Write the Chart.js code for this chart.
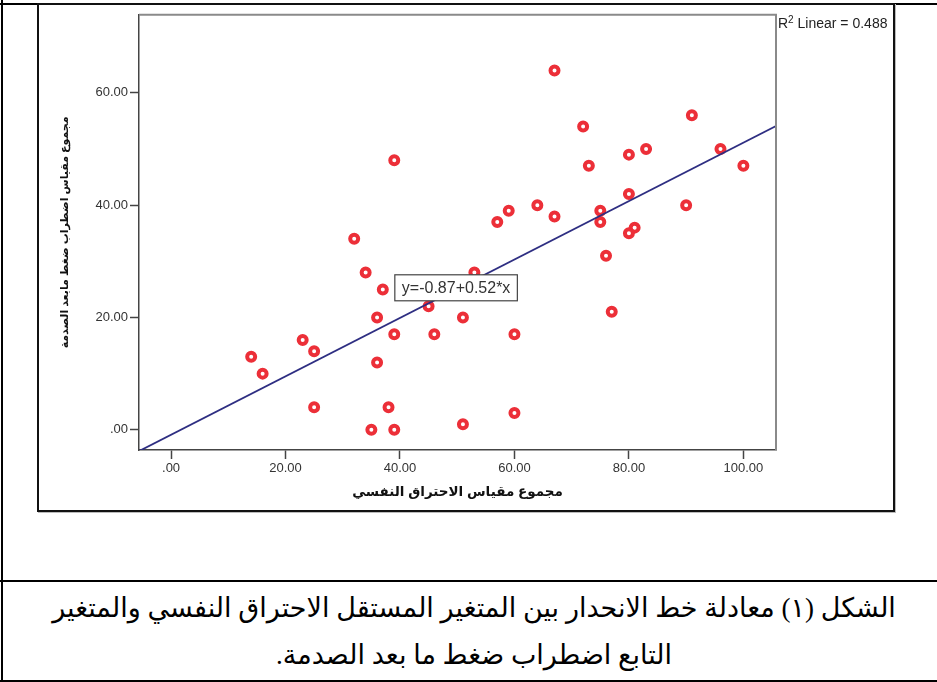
<!DOCTYPE html>
<html>
<head>
<meta charset="utf-8">
<script src="https://cdn.jsdelivr.net/npm/chart.js@4.4.1/dist/chart.umd.min.js"></script>
<style>
  html, body { margin: 0; padding: 0; background: #fff; }
  body { width: 937px; height: 682px; position: relative; overflow: hidden; }
  .hl { position: absolute; left: 0; width: 937px; height: 2px; background: #000; }
  .vl { position: absolute; top: 0; width: 2px; height: 682px; background: #000; }
  #frame { position: absolute; left: 37px; top: 3px; width: 858px; height: 509px; box-sizing: border-box;
           border: 2px solid #111; box-shadow: 1px 1px 0 #bbb; }
  #wrap { position: absolute; left: 39px; top: 5px; width: 854px; height: 505px; }
  .caption { position: absolute; left: 4px; width: 940px; text-align: center; direction: rtl;
             font-family: "Times New Roman", "Liberation Serif", "DejaVu Sans", serif;
             font-size: 27px; color: #000; white-space: nowrap; }
</style>
</head>
<body>
<div class="hl" style="top:3px"></div>
<div class="vl" style="left:1px"></div>
<div id="frame"></div>
<div class="hl" style="top:580px"></div>
<div class="hl" style="top:680px"></div>
<div id="wrap"><canvas id="chart" width="854" height="505"></canvas></div>
<div class="caption" style="top:592px">الشكل (١) معادلة خط الانحدار بين المتغير المستقل الاحتراق النفسي والمتغير</div>
<div class="caption" style="top:639px">التابع اضطراب ضغط ما بعد الصدمة.</div>

<script>
// burnout total (x) and PTSD total (y) for each respondent
const burnout = [39, 59, 57, 32, 67, 91, 72, 83, 80, 96, 73, 100, 80, 64, 67, 90, 75, 75, 81, 80, 76,
  77, 51, 60, 51, 60, 53, 34, 37, 45, 36, 39, 46, 23, 14, 25, 36, 16, 25, 38, 35, 39];
const ptsd = [48, 39, 37, 34, 64, 56, 54, 50, 49, 50, 47, 47, 42, 40, 38, 40, 39, 37, 36, 35, 31,
  21, 20, 17, 1, 3, 28, 28, 25, 22, 20, 17, 17, 16, 13, 14, 12, 10, 4, 4, 0, 0];

// fit line end points, as drawn edge to edge
const fitX = [-5.6, 105.7];
const fitY = [-3.8, 54.1];

const xTicks = [0, 20, 40, 60, 80, 100];
const yTicks = [0, 20, 40, 60];

const xTitle = "مجموع مقياس الاحتراق النفسي";
const yTitle = "مجموع مقياس اضطراب ضغط مابعد الصدمة";
const equation = "y=-0.87+0.52*x";
const rSquared = "0.488";

const SANS = "Arial, 'Liberation Sans', 'DejaVu Sans', sans-serif";

function fmt(v) {
  return v.toFixed(2).replace(/^0\./, ".");
}

const extras = {
  id: "extras",
  afterDraw(chart) {
    const ctx = chart.ctx;
    const a = chart.chartArea;
    const xs = chart.scales.x, ys = chart.scales.y;
    ctx.save();

    // top and right edges of the plot frame
    ctx.strokeStyle = "#8a8a8a";
    ctx.lineWidth = 2;
    ctx.beginPath();
    ctx.moveTo(a.left, a.top);
    ctx.lineTo(a.right, a.top);
    ctx.lineTo(a.right, a.bottom);
    ctx.stroke();

    // R2 label
    ctx.fillStyle = "#222";
    ctx.textBaseline = "alphabetic";
    ctx.textAlign = "left";
    let tx = a.right + 2, ty = a.top + 13;
    ctx.font = "14px " + SANS;
    ctx.fillText("R", tx, ty);
    tx += ctx.measureText("R").width;
    ctx.font = "10px " + SANS;
    ctx.fillText("2", tx, ty - 5);
    tx += ctx.measureText("2").width;
    ctx.font = "14px " + SANS;
    ctx.fillText(" Linear = " + rSquared, tx, ty);

    // equation box
    ctx.font = "16px " + SANS;
    const w = ctx.measureText(equation).width + 14;
    const bx = xs.getPixelForValue(39.1), by = ys.getPixelForValue(27.6);
    ctx.fillStyle = "#fff";
    ctx.fillRect(bx, by, w, 26);
    ctx.strokeStyle = "#444";
    ctx.lineWidth = 1.2;
    ctx.strokeRect(bx, by, w, 26);
    ctx.fillStyle = "#333";
    ctx.textBaseline = "middle";
    ctx.fillText(equation, bx + 7, by + 14);
    ctx.restore();
  }
};

new Chart(document.getElementById("chart"), {
  type: "scatter",
  data: {
    datasets: [
      {
        data: fitX.map((x, i) => ({ x: x, y: fitY[i] })),
        showLine: true,
        pointRadius: 0,
        borderColor: "#2e2e82",
        borderWidth: 1.8,
        order: 0
      },
      {
        data: burnout.map((x, i) => ({ x: x, y: ptsd[i] })),
        pointRadius: 4,
        pointBorderWidth: 4,
        pointBorderColor: "#ec2f38",
        pointBackgroundColor: "#fff",
        order: 1
      }
    ]
  },
  options: {
    responsive: false,
    animation: false,
    layout: { padding: { left: 0, top: 5, right: 117, bottom: 0 } },
    plugins: { legend: { display: false }, tooltip: { enabled: false } },
    scales: {
      x: {
        min: -5.6,
        max: 105.7,
        afterBuildTicks: s => { s.ticks = xTicks.map(v => ({ value: v })); },
        afterFit: s => { s.height = 60; },
        border: { color: "#444", width: 1.5 },
        grid: { drawOnChartArea: false, tickLength: 9, tickColor: "#444", tickWidth: 1.5 },
        ticks: { padding: 2, color: "#333", font: { size: 13, family: SANS }, callback: v => fmt(v) },
        title: { display: true, text: xTitle, color: "#111", padding: { top: 0, bottom: 10 },
                 font: { size: 13.5, weight: "bold", family: SANS } }
      },
      y: {
        min: -3.6,
        max: 73.9,
        afterBuildTicks: s => { s.ticks = yTicks.map(v => ({ value: v })); },
        afterFit: s => { s.width = 100; },
        border: { color: "#444", width: 1.5 },
        grid: { drawOnChartArea: false, tickLength: 9, tickColor: "#444", tickWidth: 1.5 },
        ticks: { padding: 2, color: "#333", font: { size: 13, family: SANS }, callback: v => fmt(v) },
        title: { display: true, text: yTitle, color: "#111", padding: { top: 19, bottom: 0 },
                 font: { size: 11, weight: "bold", family: SANS } }
      }
    }
  },
  plugins: [extras]
});
</script>
</body>
</html>
